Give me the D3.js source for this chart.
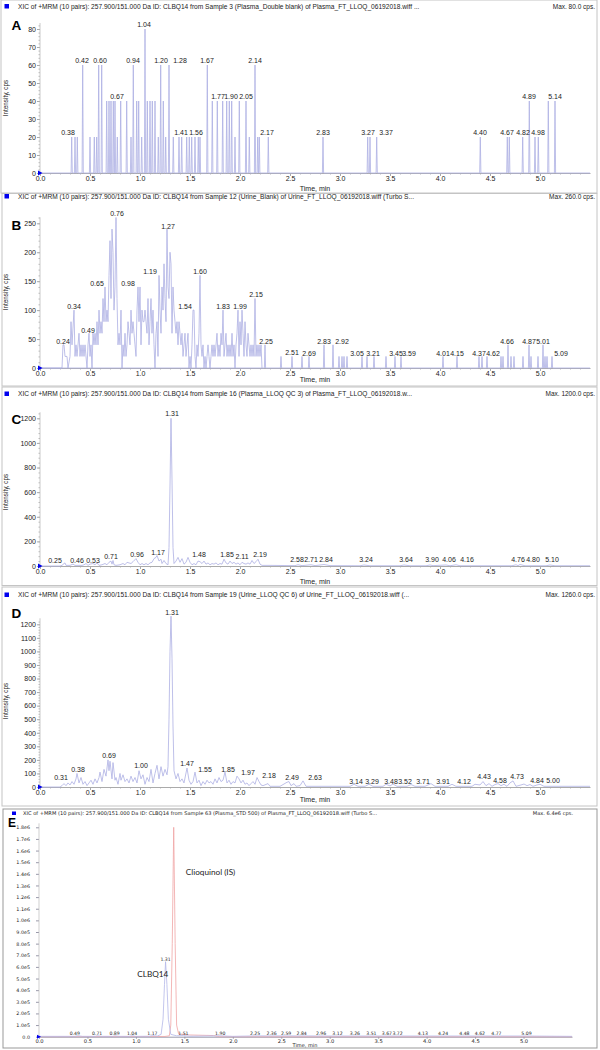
<!DOCTYPE html>
<html>
<head>
<meta charset="utf-8">
<script src="https://cdn.jsdelivr.net/npm/d3@7"></script>
<style>
  body { margin: 0; background: #fff; }
  svg text { font-family: "Liberation Sans", Arial, sans-serif; fill: #222; }
</style>
</head>
<body>
<div id="chart"></div>
<script>
// ---- shared tick values ----
var xTicks = [0, 0.5, 1.0, 1.5, 2.0, 2.5, 3.0, 3.5, 4.0, 4.5, 5.0];
var yTicksA = [0, 10, 20, 30, 40, 50, 60, 70, 80];
var yTicksB = [0, 50, 100, 150, 200, 250];
var yTicksC = [0, 200, 400, 600, 800, 1000, 1200];
var yTicksD = [0, 100, 200, 300, 400, 500, 600, 700, 800, 900, 1000, 1100, 1200];
var yTicksE = [0, 1e5, 2e5, 3e5, 4e5, 5e5, 6e5, 7e5, 8e5, 9e5, 1e6, 1.1e6, 1.2e6, 1.3e6, 1.4e6, 1.5e6, 1.6e6, 1.7e6, 1.8e6];

var titles = [
  "XIC of +MRM (10 pairs): 257.900/151.000 Da ID: CLBQ14 from Sample 3 (Plasma_Double blank) of Plasma_FT_LLOQ_06192018.wiff ...",
  "XIC of +MRM (10 pairs): 257.900/151.000 Da ID: CLBQ14 from Sample 12 (Urine_Blank) of Urine_FT_LLOQ_06192018.wiff (Turbo S...",
  "XIC of +MRM (10 pairs): 257.900/151.000 Da ID: CLBQ14 from Sample 16 (Plasma_LLOQ QC 3) of Plasma_FT_LLOQ_06192018.w...",
  "XIC of +MRM (10 pairs): 257.900/151.000 Da ID: CLBQ14 from Sample 19 (Urine_LLOQ QC 6) of Urine_FT_LLOQ_06192018.wiff (...",
  "XIC of +MRM (10 pairs): 257.900/151.000 Da ID: CLBQ14 from Sample 63 (Plasma_STD 500) of Plasma_FT_LLOQ_06192018.wiff (Turbo S..."
];
var maxTexts = ["Max. 80.0 cps.", "Max. 260.0 cps.", "Max. 1200.0 cps.", "Max. 1260.0 cps.", "Max. 6.4e6 cps."];
var letters = ["A", "B", "C", "D", "E"];

// ---- A: plasma double blank (spikes: time, cps) ----
var aSpikes = [[0.317,20],[0.35,20],[0.373,20],[0.427,60],[0.50,20],[0.543,20],[0.567,20],[0.587,60],[0.617,60],
  [0.667,40],[0.69,40],[0.71,40],[0.733,40],[0.75,40],[0.773,20],[0.807,40],[0.867,40],[0.91,20],[0.933,60],
  [0.967,40],[0.987,40],[1.017,20],[1.05,80],[1.073,40],[1.10,40],[1.123,40],[1.15,40],[1.183,20],[1.207,60],
  [1.233,40],[1.257,20],[1.29,60],[1.333,20],[1.39,20],[1.417,20],[1.467,20],[1.493,20],[1.517,20],[1.55,20],
  [1.583,20],[1.60,20],[1.673,60],[1.723,40],[1.773,40],[1.827,40],[1.867,40],[1.893,40],[1.917,40],[1.95,20],
  [1.993,40],[2.06,40],[2.093,20],[2.15,60],[2.177,20],[2.193,20],[2.283,20],[2.83,20],[3.277,20],[3.30,20],
  [3.367,20],[4.403,20],[4.673,20],[4.693,20],[4.827,20],[4.893,40],[4.95,20],[4.983,20],[5.083,40],[5.15,40]];
var aLabels = [["0.38",0.28,21],["0.42",0.42,61],["0.60",0.60,61],["0.67",0.77,41],["0.94",0.93,61],["1.04",1.04,81],
  ["1.20",1.21,61],["1.28",1.40,61],["1.41",1.41,21],["1.56",1.56,21],["1.67",1.67,61],["1.77",1.78,41],["1.90",1.91,41],
  ["2.05",2.06,41],["2.14",2.15,61],["2.17",2.27,21],["2.83",2.83,21],["3.27",3.28,21],["3.37",3.46,21],["4.40",4.40,21],
  ["4.67",4.67,21],["4.82",4.83,21],["4.89",4.89,41],["4.98",4.98,21],["5.14",5.15,41]];

// ---- B: urine blank ----
var bTrace = [[0,0],[0.22,0],[0.23,40],[0.24,40],[0.25,20],[0.27,20],[0.28,0],[0.30,20],[0.31,80],[0.32,40],[0.34,100],[0.35,20],
  [0.36,40],[0.37,20],[0.38,40],[0.39,60],[0.40,20],[0.41,40],[0.42,20],[0.43,40],[0.44,20],[0.45,40],[0.47,0],[0.48,40],
  [0.49,60],[0.50,20],[0.51,40],[0.52,0],[0.53,60],[0.54,40],[0.55,60],[0.56,40],[0.57,80],[0.58,40],[0.59,100],[0.60,60],
  [0.61,80],[0.62,60],[0.63,120],[0.64,80],[0.65,140],[0.66,80],[0.67,100],[0.68,80],[0.69,160],[0.70,220],[0.71,120],
  [0.72,240],[0.73,200],[0.74,100],[0.75,140],[0.76,260],[0.77,120],[0.78,40],[0.79,60],[0.80,40],[0.81,100],[0.82,0],
  [0.83,40],[0.84,20],[0.85,60],[0.86,20],[0.87,40],[0.88,80],[0.89,60],[0.90,40],[0.91,100],[0.92,60],[0.93,80],[0.94,60],
  [0.95,40],[0.96,20],[0.97,100],[0.98,140],[0.99,80],[1.00,140],[1.01,40],[1.02,100],[1.03,80],[1.04,80],[1.05,100],
  [1.06,80],[1.07,60],[1.08,120],[1.09,40],[1.10,80],[1.11,120],[1.12,60],[1.13,100],[1.14,40],[1.15,0],[1.16,60],[1.17,80],
  [1.18,20],[1.19,160],[1.20,100],[1.21,60],[1.22,140],[1.23,100],[1.24,180],[1.25,120],[1.26,80],[1.27,240],[1.28,140],
  [1.29,120],[1.30,200],[1.31,180],[1.32,60],[1.33,140],[1.34,100],[1.35,80],[1.36,60],[1.37,80],[1.38,40],[1.39,80],
  [1.40,60],[1.41,40],[1.42,60],[1.43,20],[1.44,40],[1.45,60],[1.46,20],[1.47,40],[1.48,60],[1.49,0],[1.50,20],[1.51,0],
  [1.52,40],[1.53,100],[1.54,100],[1.55,20],[1.56,0],[1.57,40],[1.58,20],[1.59,60],[1.60,160],[1.61,40],[1.62,20],[1.63,40],
  [1.64,0],[1.65,20],[1.66,0],[1.67,20],[1.68,40],[1.69,20],[1.70,0],[1.71,20],[1.72,40],[1.73,20],[1.74,40],[1.75,20],
  [1.76,40],[1.77,60],[1.78,20],[1.79,40],[1.80,20],[1.81,60],[1.82,40],[1.83,100],[1.84,20],[1.85,40],[1.86,60],[1.87,20],
  [1.88,40],[1.89,20],[1.90,40],[1.91,20],[1.92,60],[1.93,20],[1.94,40],[1.95,0],[1.96,40],[1.97,60],[1.98,100],[1.99,20],
  [2.00,80],[2.01,40],[2.02,100],[2.03,60],[2.04,20],[2.05,80],[2.06,40],[2.07,20],[2.08,60],[2.09,40],[2.10,20],[2.11,40],
  [2.12,20],[2.13,40],[2.14,20],[2.15,120],[2.16,20],[2.17,40],[2.18,20],[2.19,40],[2.20,20],[2.21,40],[2.22,0]];
var bSpikes = [[2.25,40],[2.41,20],[2.52,20],[2.62,20],[2.69,20],[2.84,40],[2.93,40],[2.99,20],[3.02,20],[3.04,20],[3.07,20],
  [3.22,20],[3.27,20],[3.34,20],[3.46,20],[3.55,20],[3.61,20],[4.03,20],[4.17,20],[4.39,20],[4.42,20],[4.47,20],[4.61,20],
  [4.63,20],[4.68,40],[4.71,20],[4.74,20],[4.83,20],[4.89,40],[4.91,20],[4.98,20],[5.03,40],[5.05,20],[5.07,20],[5.12,20]];
var bLabels = [["0.24",0.23,42],["0.34",0.34,102],["0.49",0.48,61],["0.65",0.57,142],["0.76",0.77,263],["0.98",0.88,142],
  ["1.19",1.10,162],["1.27",1.28,241],["1.54",1.45,102],["1.60",1.60,162],["1.83",1.83,102],["1.99",2.00,102],["2.15",2.16,122],
  ["2.25",2.26,42],["2.51",2.52,22],["2.69",2.69,21],["2.83",2.84,41],["2.92",3.02,41],["3.05",3.17,21],["3.21",3.33,21],
  ["3.45",3.56,21],["3.59",3.69,21],["4.01",4.03,21],["4.15",4.17,21],["4.37",4.39,21],["4.62",4.53,21],["4.66",4.67,41],
  ["4.87",4.89,41],["5.01",5.03,41],["5.09",5.21,21]];

// ---- C: plasma LLOQ QC ----
var cTrace = [[0,0],[0.20,0],[0.22,5],[0.24,20],[0.25,25],[0.26,5],[0.30,5],[0.33,15],[0.35,5],[0.42,5],[0.44,10],[0.46,20],
  [0.48,5],[0.50,15],[0.53,20],[0.55,10],[0.57,25],[0.59,5],[0.62,10],[0.65,20],[0.67,10],[0.69,30],[0.71,40],[0.72,15],
  [0.73,45],[0.74,10],[0.76,5],[0.80,10],[0.83,20],[0.85,10],[0.87,30],[0.89,25],[0.91,20],[0.93,35],[0.96,60],[0.98,30],
  [1.00,10],[1.02,20],[1.04,10],[1.06,20],[1.08,10],[1.10,25],[1.12,30],[1.14,60],[1.16,70],[1.17,85],[1.19,40],[1.21,55],
  [1.22,20],[1.24,45],[1.26,20],[1.28,10],[1.29,150],[1.30,650],[1.31,1200],[1.32,700],[1.33,150],[1.34,20],[1.36,40],
  [1.38,70],[1.40,30],[1.42,60],[1.44,15],[1.46,30],[1.48,70],[1.50,30],[1.52,10],[1.54,20],[1.56,10],[1.58,40],[1.60,35],
  [1.62,20],[1.64,40],[1.66,15],[1.68,25],[1.70,10],[1.72,20],[1.74,15],[1.76,25],[1.78,10],[1.80,20],[1.82,15],[1.84,55],
  [1.86,25],[1.88,15],[1.90,40],[1.92,20],[1.94,30],[1.96,15],[1.98,25],[2.00,10],[2.02,30],[2.04,20],[2.06,15],[2.08,25],
  [2.10,15],[2.12,45],[2.14,20],[2.16,35],[2.18,55],[2.20,15],[2.22,5],[2.30,5],[2.55,3],[2.58,10],[2.62,3],[2.71,10],
  [2.75,3],[2.84,12],[2.90,3],[3.20,2],[3.24,8],[3.30,2],[3.60,2],[3.64,8],[3.70,2],[3.86,2],[3.90,8],[3.93,3],[4.06,8],
  [4.10,2],[4.16,10],[4.20,2],[4.72,2],[4.76,10],[4.78,3],[4.80,12],[4.85,2],[5.06,2],[5.10,8],[5.15,2],[5.50,2]];
var cLabels = [["0.25",0.15,27],["0.46",0.37,27],["0.53",0.53,27],["0.71",0.71,54],["0.96",0.97,73],["1.17",1.18,92],
  ["1.31",1.32,1215],["1.48",1.59,73],["1.85",1.87,73],["2.11",2.02,54],["2.19",2.20,73],["2.58",2.57,30],["2.71",2.71,30],
  ["2.84",2.86,30],["3.24",3.26,30],["3.64",3.66,30],["3.90",3.92,30],["4.06",4.09,30],["4.16",4.27,30],["4.76",4.78,30],
  ["4.80",4.93,30],["5.10",5.12,30]];

// ---- D: urine LLOQ QC ----
var dTrace = [[0,0],[0.20,0],[0.22,10],[0.24,25],[0.26,10],[0.28,30],[0.30,15],[0.32,40],[0.34,20],[0.36,60],[0.37,100],
  [0.39,30],[0.41,70],[0.43,20],[0.45,40],[0.47,10],[0.49,30],[0.51,50],[0.53,20],[0.55,60],[0.57,30],[0.59,70],[0.60,110],
  [0.62,40],[0.64,130],[0.66,80],[0.68,200],[0.69,120],[0.70,190],[0.72,60],[0.73,180],[0.75,50],[0.76,70],[0.78,20],
  [0.80,100],[0.81,50],[0.83,90],[0.85,40],[0.87,60],[0.89,30],[0.91,80],[0.93,40],[0.95,70],[0.97,30],[0.99,120],[1.01,60],
  [1.03,90],[1.05,20],[1.07,70],[1.09,40],[1.11,130],[1.13,30],[1.15,100],[1.17,160],[1.19,60],[1.21,150],[1.23,80],
  [1.25,130],[1.27,90],[1.28,150],[1.29,500],[1.30,1000],[1.31,1260],[1.32,950],[1.33,450],[1.34,120],[1.36,60],[1.38,100],
  [1.40,40],[1.42,60],[1.44,30],[1.47,140],[1.49,50],[1.51,20],[1.53,40],[1.55,110],[1.57,30],[1.59,50],[1.61,10],[1.63,40],
  [1.65,20],[1.67,50],[1.69,30],[1.71,40],[1.73,20],[1.75,60],[1.77,30],[1.79,70],[1.81,40],[1.83,50],[1.85,110],[1.87,30],
  [1.89,50],[1.91,20],[1.93,40],[1.95,30],[1.97,80],[1.99,60],[2.01,30],[2.03,50],[2.05,20],[2.07,30],[2.09,10],[2.11,25],
  [2.13,40],[2.15,20],[2.17,70],[2.19,40],[2.21,15],[2.23,10],[2.28,25],[2.30,5],[2.40,5],[2.47,35],[2.49,40],[2.51,10],
  [2.54,25],[2.56,5],[2.60,10],[2.63,45],[2.66,5],[3.10,5],[3.14,20],[3.18,5],[3.25,5],[3.29,20],[3.33,5],[3.43,5],[3.46,20],
  [3.50,8],[3.53,22],[3.57,5],[3.67,5],[3.71,18],[3.75,5],[3.85,5],[3.88,15],[3.91,25],[3.95,5],[4.08,5],[4.12,20],[4.16,5],
  [4.32,5],[4.35,20],[4.40,15],[4.43,40],[4.46,10],[4.49,25],[4.52,5],[4.55,18],[4.58,25],[4.61,10],[4.64,20],[4.67,5],
  [4.70,30],[4.73,45],[4.76,5],[4.81,15],[4.84,22],[4.87,10],[4.90,18],[4.93,5],[4.97,15],[5.00,20],[5.04,5],[5.50,5]];
var dLabels = [["0.31",0.21,54],["0.38",0.38,110],["0.69",0.69,214],["1.00",1.01,140],["1.31",1.32,1266],["1.47",1.47,152],
  ["1.55",1.65,110],["1.85",1.88,110],["1.97",2.08,91],["2.18",2.29,69],["2.49",2.52,54],["2.63",2.75,54],["3.14",3.16,25],
  ["3.29",3.32,25],["3.48",3.51,25],["3.52",3.65,25],["3.71",3.83,25],["3.91",4.03,25],["4.12",4.24,25],["4.43",4.44,61],
  ["4.58",4.60,30],["4.73",4.77,61],["4.84",4.97,30],["5.00",5.13,30]];

// ---- E: plasma STD 500, analyte (blue) and internal standard (red) ----
var eBlue = [[0,3000],[0.37,3000],[0.40,8000],[0.45,3000],[0.58,3000],[0.60,8000],[0.65,3000],[0.76,3000],[0.78,7000],
  [0.83,3000],[0.93,3000],[0.96,8000],[1.00,3000],[1.14,4000],[1.17,9000],[1.22,5000],[1.26,20000],[1.28,150000],
  [1.295,450000],[1.306,645000],[1.32,450000],[1.335,150000],[1.36,20000],[1.42,8000],[1.49,10000],[1.55,4000],[1.87,8000],
  [2.0,3000],[2.23,7000],[2.40,7000],[2.55,7000],[2.71,7000],[2.91,6000],[3.08,6000],[3.26,6000],[3.43,6000],[3.59,6000],
  [3.70,6000],[3.96,6000],[4.17,6000],[4.39,6000],[4.55,6000],[4.72,6000],[5.03,6000],[5.50,3000]];
var eRed = [[0,0],[1.30,2000],[1.345,8000],[1.36,100000],[1.375,800000],[1.39,1800000],[1.405,800000],[1.42,100000],
  [1.44,25000],[1.55,15000],[1.80,10000],[1.86,0],[5.5,0]];
var eLabels = [["0.49",0.37,15000],["0.71",0.60,15000],["0.89",0.78,15000],["1.04",0.96,15000],["1.17",1.17,15000],
  ["1.31",1.306,650000],["1.51",1.49,15000],["1.90",1.87,15000],["2.25",2.23,15000],["2.36",2.40,15000],["2.59",2.55,15000],
  ["2.84",2.71,15000],["2.96",2.91,15000],["3.12",3.08,15000],["3.26",3.26,15000],["3.51",3.43,15000],["3.67",3.59,15000],
  ["3.72",3.70,15000],["4.13",3.96,15000],["4.24",4.17,15000],["4.48",4.39,15000],["4.62",4.55,15000],["4.77",4.72,15000],
  ["5.09",5.03,15000]];
var eNotes = [["CLBQ14", 1.335, 516000, "end"], ["Clioquinol (IS)", 1.515, 1390000, "start"]];

// ---- layout ----
var width = 600, height = 1050;
var svg = d3.select("#chart").append("svg")
  .attr("width", width)
  .attr("height", height);

var traceColor = "#adb0e3";

function spikePoints(spikes) {
  var pts = [[0, 0]];
  spikes.forEach(function(s) {
    pts.push([s[0] - 0.006, 0], [s[0], s[1]], [s[0] + 0.006, 0]);
  });
  pts.push([5.5, 0]);
  return pts;
}

var panels = [
  { box: [1, 0, 597, 193], titleY: 6.5, x0: 40, x1: 590, y0: 173, yTop: 29, yMax: 80, yTicks: yTicksA,
    timeY: 188.5, ylabY: 98, letterY: 29.5,
    traces: [[spikePoints(aSpikes), traceColor]], labels: aLabels },
  { box: [2, 193.5, 597, 386], titleY: 196.5, x0: 40, x1: 590, y0: 368, yTop: 223.3, yMax: 250, yTicks: yTicksB,
    timeY: 380, ylabY: 292, letterY: 230,
    traces: [[bTrace, traceColor], [spikePoints(bSpikes), traceColor]], labels: bLabels },
  { box: [2, 387, 597, 585.5], titleY: 394, x0: 40, x1: 590, y0: 566, yTop: 418.3, yMax: 1200, yTicks: yTicksC,
    timeY: 582, ylabY: 492, letterY: 423.5,
    traces: [[cTrace, traceColor]], labels: cLabels },
  { box: [2, 587, 597, 806], titleY: 595, x0: 40, x1: 590, y0: 787, yTop: 624.3, yMax: 1200, yTicks: yTicksD,
    timeY: 800, ylabY: 701, letterY: 617.5,
    traces: [[dTrace, traceColor]], labels: dLabels }
];

panels.forEach(function(p, i) {
  var g = svg.append("g");

  g.append("rect")
    .attr("x", p.box[0]).attr("y", p.box[1])
    .attr("width", p.box[2] - p.box[0]).attr("height", p.box[3] - p.box[1])
    .attr("fill", "none").attr("stroke", "#c4c4c4").attr("stroke-width", 1);

  g.append("rect")
    .attr("x", 4.5).attr("y", p.titleY - 2.5)
    .attr("width", 4.5).attr("height", 4.5)
    .attr("fill", "#0000ee");

  g.append("text")
    .attr("x", 18).attr("y", p.titleY).attr("dy", "0.35em")
    .style("font-size", "6.6px")
    .text(titles[i]);

  g.append("text")
    .attr("x", 595).attr("y", p.titleY).attr("dy", "0.35em")
    .attr("text-anchor", "end")
    .style("font-size", "6.5px")
    .text(maxTexts[i]);

  var x = d3.scaleLinear().domain([0, 5.5]).range([p.x0, p.x1]);
  var y = d3.scaleLinear().domain([0, p.yMax]).range([p.y0, p.yTop]);

  // minor x ticks
  g.append("g")
    .attr("transform", "translate(0," + p.y0 + ")")
    .call(d3.axisBottom(x).tickValues(d3.range(0, 55).map(function(k) { return k / 10; })).tickSize(1.5).tickFormat(""))
    .call(function(a) { a.select(".domain").remove(); a.selectAll("line").attr("stroke", "#bbb"); });

  var xAxis = g.append("g")
    .attr("transform", "translate(0," + p.y0 + ")")
    .call(d3.axisBottom(x).tickValues(xTicks).tickFormat(d3.format(".1f")).tickSize(3).tickPadding(0.5).tickSizeOuter(0));
  xAxis.select(".domain").attr("stroke", "#aaa");
  xAxis.selectAll("line").attr("stroke", "#aaa");
  xAxis.selectAll("text").style("font-size", "7px").style("fill", "#222");

  // minor y ticks
  var step = p.yTicks[1] - p.yTicks[0];
  g.append("g")
    .attr("transform", "translate(" + p.x0 + ",0)")
    .call(d3.axisLeft(y).tickValues(d3.range(0, p.yMax + step * 0.3, step / 5)).tickSize(1.5).tickFormat(""))
    .call(function(a) { a.select(".domain").remove(); a.selectAll("line").attr("stroke", "#bbb"); });

  var yAxis = g.append("g")
    .attr("transform", "translate(" + p.x0 + ",0)")
    .call(d3.axisLeft(y).tickValues(p.yTicks).tickFormat(d3.format("d")).tickSize(3).tickPadding(1));
  yAxis.select(".domain").remove();
  yAxis.selectAll("line").attr("stroke", "#aaa");
  yAxis.selectAll("text").style("font-size", "7px").style("fill", "#222");

  g.append("line")
    .attr("x1", p.x0).attr("x2", p.x0)
    .attr("y1", p.y0).attr("y2", p.yTop - 6)
    .attr("stroke", "#bbb").attr("stroke-width", 0.8);

  // traces
  var line = d3.line().x(function(d) { return x(d[0]); }).y(function(d) { return y(d[1]); });
  p.traces.forEach(function(t) {
    g.append("path")
      .datum(t[0])
      .attr("d", line)
      .attr("fill", "none")
      .attr("stroke", t[1])
      .attr("stroke-width", 0.8);
  });

  // peak labels
  g.selectAll(".pk")
    .data(p.labels)
    .enter()
    .append("text")
    .attr("x", function(d) { return x(d[1]); })
    .attr("y", function(d) { return y(d[2]); })
    .attr("text-anchor", "middle")
    .style("font-size", "7px")
    .text(function(d) { return d[0]; });

  // origin marker
  g.append("path")
    .attr("d", "M" + (p.x0 - 2) + "," + (p.y0 - 2.5) + "L" + (p.x0 + 2.5) + "," + p.y0 + "L" + (p.x0 - 2) + "," + (p.y0 + 2.5) + "Z")
    .attr("fill", "#0000ee");

  g.append("text")
    .attr("x", 315).attr("y", p.timeY).attr("dy", "0.35em")
    .attr("text-anchor", "middle")
    .style("font-size", "7px")
    .text("Time, min");

  g.append("text")
    .attr("transform", "translate(8," + p.ylabY + ") rotate(-90)")
    .attr("text-anchor", "middle")
    .style("font-size", "6.3px")
    .text("Intensity, cps");

  g.append("text")
    .attr("x", 11.5).attr("y", p.letterY)
    .style("font-size", "13.5px")
    .style("font-weight", "bold")
    .style("fill", "#000")
    .text(letters[i]);
});

// ---- panel E ----
(function() {
  var g = svg.append("g");
  var fe = "DejaVu Sans";
  var x = d3.scaleLinear().domain([0, 5.5]).range([39, 572]);
  var y = d3.scaleLinear().domain([0, 1.8e6]).range([1036.7, 827.3]);

  g.append("rect")
    .attr("x", 3).attr("y", 809).attr("width", 594).attr("height", 239)
    .attr("fill", "none").attr("stroke", "#999").attr("stroke-width", 1);

  g.append("rect")
    .attr("x", 12).attr("y", 811.5).attr("width", 4).attr("height", 3.5)
    .attr("fill", "#0000ee");
  g.append("text")
    .attr("x", 23).attr("y", 813.5).attr("dy", "0.35em")
    .style("font-family", fe).style("font-size", "5.1px")
    .text(titles[4]);
  g.append("text")
    .attr("x", 573).attr("y", 813.5).attr("dy", "0.35em")
    .attr("text-anchor", "end")
    .style("font-family", fe).style("font-size", "5.1px")
    .text(maxTexts[4]);

  var xAxis = g.append("g")
    .attr("transform", "translate(0," + y(0) + ")")
    .call(d3.axisBottom(x).tickValues(xTicks).tickFormat(d3.format(".1f")).tickSize(2).tickPadding(0.5).tickSizeOuter(0));
  xAxis.select(".domain").attr("stroke", "#99a");
  xAxis.selectAll("line").attr("stroke", "#99a");
  xAxis.selectAll("text").style("font-family", fe).style("font-size", "5.2px").style("fill", "#222");

  var fmtE = function(v) {
    if (v === 0) return "0.0";
    if (v < 1e6) return (v / 1e5).toFixed(1) + "e5";
    return (v / 1e6).toFixed(1) + "e6";
  };
  var yAxis = g.append("g")
    .attr("transform", "translate(39,0)")
    .call(d3.axisLeft(y).tickValues(yTicksE).tickFormat(fmtE).tickSize(3).tickPadding(6));
  yAxis.select(".domain").remove();
  yAxis.selectAll("line").attr("stroke", "#99a");
  yAxis.selectAll("text").style("font-family", fe).style("font-size", "4.8px").style("fill", "#222");
  g.append("line")
    .attr("x1", 39).attr("x2", 39).attr("y1", y(0)).attr("y2", y(1.8e6) - 4)
    .attr("stroke", "#bbb").attr("stroke-width", 0.7);

  var line = d3.line().x(function(d) { return x(d[0]); }).y(function(d) { return y(d[1]); });
  g.append("path").datum(eRed).attr("d", line)
    .attr("fill", "none").attr("stroke", "#f0a4a4").attr("stroke-width", 0.8);
  g.append("path").datum(eBlue).attr("d", line)
    .attr("fill", "none").attr("stroke", "#b4b8e8").attr("stroke-width", 0.8);

  g.selectAll(".pk")
    .data(eLabels)
    .enter()
    .append("text")
    .attr("x", function(d) { return x(d[1]); })
    .attr("y", function(d) { return y(d[2]); })
    .attr("text-anchor", "middle")
    .style("font-family", fe).style("font-size", "4.6px")
    .text(function(d) { return d[0]; });

  g.selectAll(".note")
    .data(eNotes)
    .enter()
    .append("text")
    .attr("x", function(d) { return x(d[1]); })
    .attr("y", function(d) { return y(d[2]); })
    .attr("text-anchor", function(d) { return d[3]; })
    .style("font-family", "Lato").style("font-size", "8.2px")
    .text(function(d) { return d[0]; });

  g.append("path")
    .attr("d", "M37," + (y(0) - 2) + "L41," + y(0) + "L37," + (y(0) + 2) + "Z")
    .attr("fill", "#0000ee");

  g.append("text")
    .attr("x", 305).attr("y", 1045.5).attr("dy", "0.35em")
    .attr("text-anchor", "middle")
    .style("font-family", fe).style("font-size", "5px")
    .text("Time, min");

  g.append("text")
    .attr("x", 8).attr("y", 827)
    .style("font-size", "12px").style("font-weight", "bold").style("fill", "#000")
    .text("E");
})();
</script>
</body>
</html>
